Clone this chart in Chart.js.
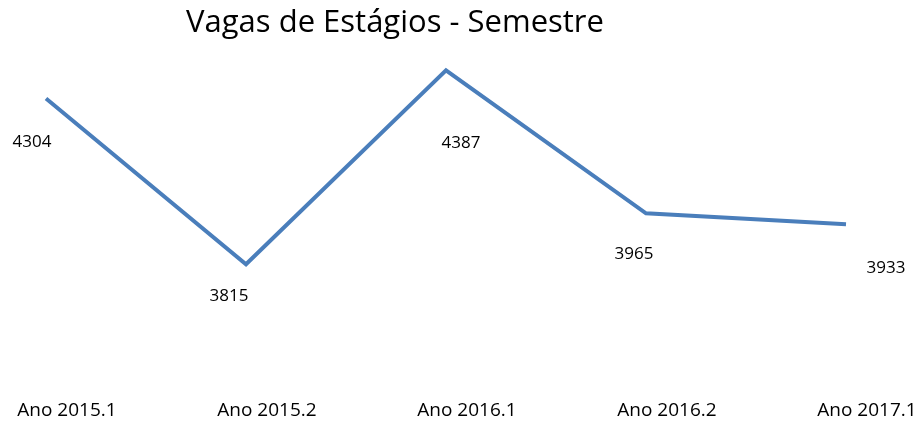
<!DOCTYPE html>
<html>
<head>
<meta charset="utf-8">
<script src="https://cdn.jsdelivr.net/npm/chart.js@4/dist/chart.umd.min.js"></script>
<style>
  html, body { margin: 0; padding: 0; background: #fff; }
  #wrap { width: 921px; height: 423px; position: relative; }
</style>
</head>
<body>
<div id="wrap"><canvas id="chart"></canvas></div>
<script>
// dados do gráfico
const TITLE = 'Vagas de Estágios - Semestre';
const categories = ['Ano 2015.1', 'Ano 2015.2', 'Ano 2016.1', 'Ano 2016.2', 'Ano 2017.1'];
const vagas = [4304, 3815, 4387, 3965, 3933];

const FONT = '"Open Sans", "Liberation Sans", sans-serif';
const LINE_COLOR = '#4A7EBB';

// deslocamento dos rótulos de dados (como no Excel, movidos à mão)
const labelShift = [[-14, 44], [-17, 32], [15, 73], [-12, 41], [40, 44]];

const titlePlugin = {
    id: 'tituloManual',
    afterDraw(chart) {
        const ctx = chart.ctx;
        ctx.save();
        ctx.font = '31px ' + FONT;
        ctx.fillStyle = '#000';
        ctx.textAlign = 'center';
        ctx.textBaseline = 'middle';
        ctx.fillText(TITLE, 395, 23);
        ctx.restore();
    }
};

const dataLabels = {
    id: 'rotulos',
    afterDatasetsDraw(chart) {
        const ctx = chart.ctx;
        const meta = chart.getDatasetMeta(0);
        ctx.save();
        ctx.font = '17px ' + FONT;
        ctx.fillStyle = '#000';
        ctx.textAlign = 'center';
        ctx.textBaseline = 'middle';
        meta.data.forEach((pt, i) => {
            const s = labelShift[i];
            ctx.fillText(String(vagas[i]), pt.x + s[0], pt.y + s[1]);
        });
        ctx.restore();
    }
};

new Chart(document.getElementById('chart'), {
    type: 'line',
    data: {
        labels: categories,
        datasets: [{
            data: vagas,
            borderColor: LINE_COLOR,
            borderWidth: 4,
            pointRadius: 0,
            tension: 0,
            fill: false
        }]
    },
    options: {
        responsive: true,
        maintainAspectRatio: false,
        animation: false,
        layout: { padding: { left: 46, right: 75, top: 32, bottom: 0 } },
        plugins: {
            legend: { display: false },
            tooltip: { enabled: false }
        },
        scales: {
            x: {
                grid: { display: false, drawTicks: false },
                border: { display: false },
                ticks: {
                    color: '#000',
                    font: { family: FONT, size: 19 },
                    padding: 28,
                    labelOffset: 21,
                    maxRotation: 0,
                    autoSkip: false
                },
                afterFit(scale) {
                    scale.paddingLeft = 0;
                    scale.paddingRight = 0;
                    scale.height = 52;
                }
            },
            y: {
                display: false,
                min: 3500,
                max: 4500
            }
        }
    },
    plugins: [titlePlugin, dataLabels]
});
</script>
</body>
</html>
